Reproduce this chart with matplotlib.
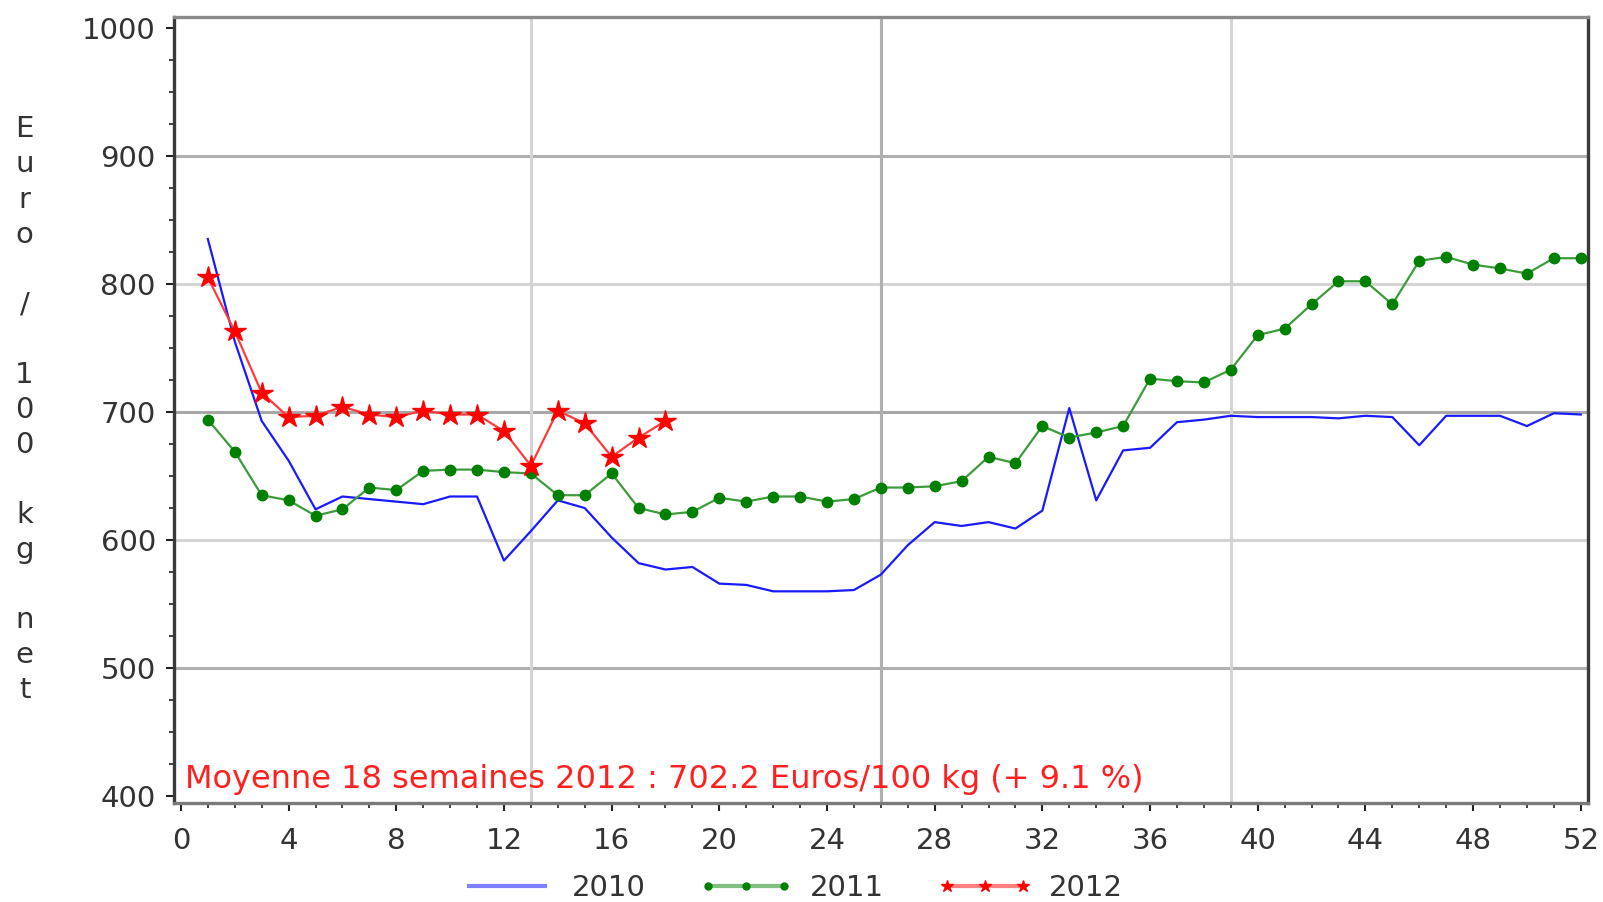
import matplotlib
matplotlib.use("Agg")
import matplotlib.pyplot as plt
from matplotlib.lines import Line2D
from matplotlib.ticker import MultipleLocator

# semaines 1..52
semaines = list(range(1, 53))
prix_2010 = [835, 755, 693, 662, 624, 634, 632, 630, 628, 634, 634, 584, 607,
             631, 625, 602, 582, 577, 579, 566, 565, 560, 560, 560, 561, 573,
             596, 614, 611, 614, 609, 623, 703, 631, 670, 672, 692, 694, 697,
             696, 696, 696, 695, 697, 696, 674, 697, 697, 697, 689, 699, 698]
prix_2011 = [694, 669, 635, 631, 619, 624, 641, 639, 654, 655, 655, 653, 652,
             635, 635, 652, 625, 620, 622, 633, 630, 634, 634, 630, 632, 641,
             641, 642, 646, 665, 660, 689, 680, 684, 689, 726, 724, 723, 733,
             760, 765, 784, 802, 802, 784, 818, 821, 815, 812, 808, 820, 820]
semaines_2012 = list(range(1, 19))
prix_2012 = [805, 763, 715, 696, 697, 704, 698, 696, 701, 698, 698, 685, 658,
             701, 691, 665, 680, 693]

annees = ["2010", "2011", "2012"]
texte_moyenne = "Moyenne 18 semaines 2012 : 702.2 Euros/100 kg (+ 9.1 %)"
label_y = "E\nu\nr\no\n\n/\n\n1\n0\n0\n\nk\ng\n\nn\ne\nt"

plt.rcParams['font.family'] = ['DejaVu Sans']
fs = 21
gris_txt = '#333333'

fig = plt.figure(figsize=(16.03, 9.02), dpi=100)
ax = fig.add_axes([0.1085, 0.1098, 0.882, 0.8714])

# grille
for y, c in [(500, '#b0b0b0'), (600, '#d4d4d4'), (700, '#a8a8a8'), (800, '#d4d4d4'), (900, '#b0b0b0')]:
    ax.axhline(y, color=c, lw=2.2, zorder=1)
for x, c in [(13, '#d4d4d4'), (26, '#b0b0b0'), (39, '#d4d4d4')]:
    ax.axvline(x, color=c, lw=2.2, zorder=1)

ax.plot(semaines, prix_2010, color='#1a1aff', lw=1.6, zorder=3)
ax.plot(semaines, prix_2011, color='#3c9c3c', lw=1.6, marker='o', ms=7.5,
        mfc='#008000', mec='#008000', zorder=4)
ax.plot(semaines_2012, prix_2012, color='#ff3c3c', lw=1.6, marker='*', ms=16,
        mfc='#ff0000', mec='#ff0000', zorder=5)

ax.set_xlim(-0.26, 52.26)
ax.set_ylim(394.8, 1008.3)
ax.xaxis.set_major_locator(MultipleLocator(4))
ax.xaxis.set_minor_locator(MultipleLocator(1))
ax.yaxis.set_major_locator(MultipleLocator(100))
ax.yaxis.set_minor_locator(MultipleLocator(25))
ax.tick_params(which='major', length=6, width=1.5, color='#222222',
               labelsize=fs, labelcolor=gris_txt, pad=7)
ax.tick_params(axis='x', which='major', pad=11)
ax.tick_params(which='minor', length=3.5, width=1.3, color='#333333')

ax.spines['left'].set_color('#3a3a3a')
ax.spines['right'].set_color('#3a3a3a')
ax.spines['top'].set_color('#8a8a8a')
ax.spines['bottom'].set_color('#7a7a7a')
for s in ax.spines.values():
    s.set_linewidth(2.4)

ax.text(0.008, 0.019, texte_moyenne, transform=ax.transAxes, color='#ff2020',
        fontsize=23, va='baseline', ha='left', zorder=6)

fig.text(0.0153, 0.872, label_y, ha='center', va='top', fontsize=fs,
         color=gris_txt, linespacing=1.32)

handles = [
    Line2D([], [], color='#8080ff', lw=3),
    Line2D([], [], color='#80c080', lw=3, marker='o', ms=5, mfc='#008000', mec='#008000'),
    Line2D([], [], color='#ff8080', lw=3, marker='*', ms=9, mfc='#ff0000', mec='#ff0000'),
]
leg = fig.legend(handles, annees, loc='center', bbox_to_anchor=(0.494, 0.015),
                 ncol=3, frameon=False, fontsize=fs, handlelength=3.2,
                 handletextpad=0.6, columnspacing=1.85, numpoints=3)
for t in leg.get_texts():
    t.set_color(gris_txt)

fig.savefig('out.png', dpi=100, facecolor='white')
